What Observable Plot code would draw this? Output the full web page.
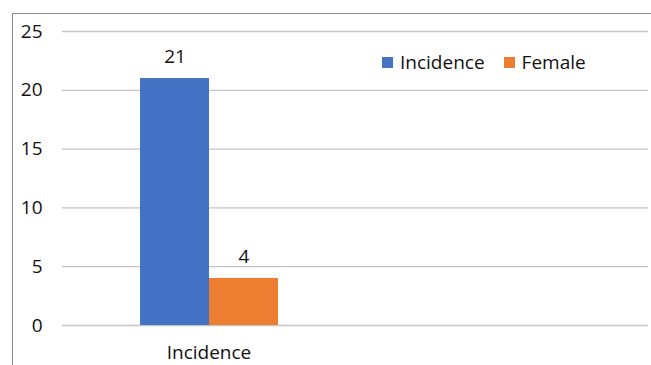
<!DOCTYPE html>
<html>
<head>
<meta charset="utf-8">
<script src="https://cdn.jsdelivr.net/npm/d3@7"></script>
<script src="https://cdn.jsdelivr.net/npm/@observablehq/plot@0.6"></script>
<style>
  html, body { margin: 0; padding: 0; background: #fff; }
  #wrap { position: relative; width: 651px; height: 365px; overflow: hidden; font-family: "Open Sans", sans-serif; }
  #frame { position: absolute; left: 12px; top: 13px; right: -2px; bottom: -2px; border-left: 1.5px solid #8c8c8c; border-top: 1.5px solid #8c8c8c; pointer-events: none; }
  #legend { position: absolute; left: 382px; top: 49px; display: flex; align-items: center; font-size: 19px; color: #111; }
  #legend .sw { width: 11px; height: 11px; display: inline-block; margin-right: 7px; }
  #legend .item { display: flex; align-items: center; margin-right: 19px; }
  #chart { position: absolute; left: 0; top: 0; }
</style>
</head>
<body>
<div id="wrap">
  <div id="chart"></div>
  <div id="frame"></div>
  <div id="legend"></div>
</div>
<script>
const categories = ["Incidence", ""];
const series = ["Incidence", "Female"];
const values = [21, 4];
const colors = ["#4472C4", "#ED7D31"];
const yTicks = [0, 5, 10, 15, 20, 25];

const data = series.map((s, i) => ({ category: categories[0], series: s, value: values[i] }));
const grid = categories.flatMap(c => yTicks.map(t => ({ category: c, tick: t })));

const chart = Plot.plot({
  width: 651,
  height: 365,
  marginLeft: 62,
  marginRight: 3,
  marginTop: 31,
  marginBottom: 40,
  style: { fontFamily: "Open Sans, sans-serif", fontSize: "19px", color: "#111", background: "transparent" },
  fx: { domain: categories, paddingInner: 0, paddingOuter: 0, label: null, axis: "bottom", tickSize: 0, tickPadding: 20 },
  x: { domain: series, paddingInner: 0, paddingOuter: 1.093, axis: null },
  y: { domain: [0, 25], ticks: yTicks, tickSize: 0, tickPadding: 20, label: null, axis: "left" },
  color: { domain: series, range: colors },
  marks: [
    Plot.ruleY(grid, { fx: "category", y: "tick", stroke: "#c4c4c4", strokeWidth: 1.3 }),
    Plot.barY(data, { fx: "category", x: "series", y: "value", fill: "series" }),
    Plot.text(data, { fx: "category", x: "series", y: "value", text: d => String(d.value), dy: -22, fontSize: 19, fill: "#111" })
  ]
});
document.getElementById("chart").appendChild(chart);

const legend = document.getElementById("legend");
series.forEach((s, i) => {
  const item = document.createElement("div");
  item.className = "item";
  const sw = document.createElement("span");
  sw.className = "sw";
  sw.style.background = colors[i];
  item.appendChild(sw);
  item.appendChild(document.createTextNode(s));
  legend.appendChild(item);
});
</script>
</body>
</html>
